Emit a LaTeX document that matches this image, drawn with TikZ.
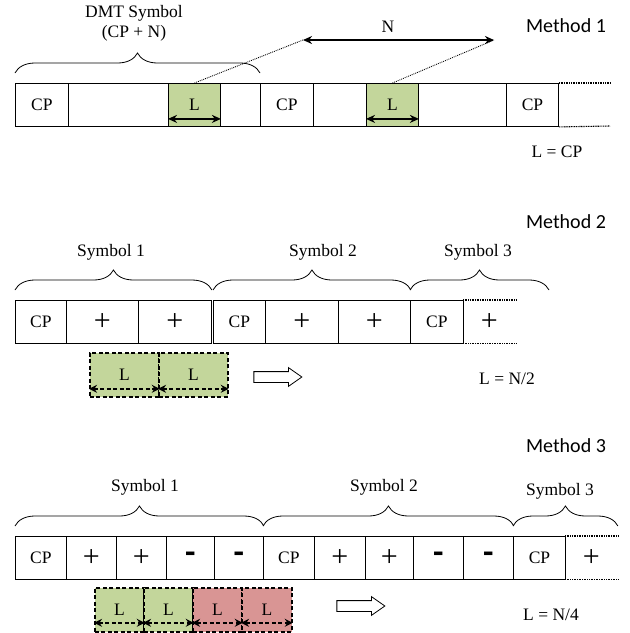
\documentclass[tikz,border=0pt]{standalone}
\usepackage{fontspec}
\setmainfont{Liberation Serif}
\newfontfamily\calib{Carlito}
\usetikzlibrary{decorations.pathreplacing,arrows.meta,shapes.arrows}

\definecolor{lgreen}{HTML}{C3D69B}
\definecolor{lred}{HTML}{D99594}

% \cell{name}{left}{right}{top}{text}{extra style}
\newcommand{\cell}[6]{%
  \node[cell, minimum width={#3-#2}, #6] (#1) at (#2,#4) {#5};}
\newcommand{\plus}{{\fontsize{30}{30}\selectfont +}}
\newcommand{\minus}{{\calib\bfseries\fontsize{34}{34}\selectfont -}}

\begin{document}
\begin{tikzpicture}[x=1pt,y=-1pt,
  txt/.style={font=\fontsize{17.5}{20}\selectfont, inner sep=0pt, anchor=base},
  meth/.style={font=\calib\fontsize{20}{24}\selectfont, inner sep=0pt, anchor=base},
  cell/.style={draw, line width=0.9pt, minimum height=43pt, inner sep=0pt,
    anchor=north west, font=\fontsize{17.5}{20}\selectfont},
  segbox/.style={draw, line width=1.8pt, dash pattern=on 4pt off 2.5pt,
    minimum height=44pt, inner sep=0pt, anchor=north west,
    font=\fontsize{17.5}{20}\selectfont},
  brc/.style={decorate, decoration={brace, amplitude=20pt}, line width=0.8pt},
  larr/.style={{Stealth[length=9pt,width=8pt]}-{Stealth[length=9pt,width=8pt]}, line width=1.8pt},
  darr/.style={{Stealth[length=8pt,width=8pt]}-{Stealth[length=8pt,width=8pt]}, line width=1.8pt,
    dash pattern=on 4pt off 2.5pt},
  cont/.style={line width=1.1pt, dash pattern=on 1pt off 0.7pt},
  hollow/.style={single arrow, draw, fill=white, line width=0.8pt,
    minimum height=48pt, single arrow head extend=4pt, inner sep=5pt,
    single arrow tip angle=70}
]
\useasboundingbox (0,0) rectangle (630,633);

%% ---------------- Method 1 ----------------
\node[meth] (t1) at (566,32) {Method 1};
\cell{a1}{15}{68}{83}{CP}{}
\cell{a2}{68}{168}{83}{}{}
\cell{a3}{168}{220}{83}{L}{fill=lgreen}
\cell{a4}{220}{260}{83}{}{}
\cell{a5}{260}{313}{83}{CP}{}
\cell{a6}{313}{366}{83}{}{}
\cell{a7}{366}{418}{83}{L}{fill=lgreen}
\cell{a8}{418}{506}{83}{}{}
\cell{a9}{506}{558}{83}{CP}{}
\coordinate (a9t) at (610,83);
\coordinate (a9b) at (610,126);
\draw[cont] (a9.north east) -- (a9t);
\draw[cont] (a9.south east) -- (a9b);

\draw[larr] ([yshift=8pt]a3.south west) -- ([yshift=8pt]a3.south east);
\draw[larr] ([yshift=8pt]a7.south west) -- ([yshift=8pt]a7.south east);

\draw[brc] ([yshift=10pt]a1.north west) -- ([yshift=10pt]a5.north west);
\node[txt] (dmt) at (134,17) {DMT Symbol};
\node[txt] (cpn) at (134,37) {(CP + N)};

\coordinate (nl) at (303,40);
\coordinate (nr) at (494,40);
\draw[larr] (nl) -- (nr);
\node[txt] (nlab) at (388,32) {N};
\draw[line width=0.9pt, densely dotted] (a3.north) -- (nl);
\draw[line width=0.9pt, densely dotted] (a7.north) -- (nr);
\node[txt] (eq1) at (557,157) {L = CP};

%% ---------------- Method 2 ----------------
\node[meth] (t2) at (566,228) {Method 2};
\cell{b1}{15}{66}{300}{CP}{}
\cell{b2}{66}{138}{300}{\plus}{}
\cell{b3}{138}{211}{300}{\plus}{}
\cell{b4}{213}{265}{300}{CP}{}
\cell{b5}{265}{338}{300}{\plus}{}
\cell{b6}{338}{410}{300}{\plus}{}
\cell{b7}{410}{463}{300}{CP}{}
\cell{b8}{463}{515}{300}{\plus}{draw=none}
\draw[cont] (b8.north west) -- (b8.north east);
\draw[cont] (b8.south west) -- (b8.south east);

\coordinate (b9) at (549,290);
\draw[brc] ([yshift=10pt]b1.north west) -- ([yshift=10pt]b3.north east);
\draw[brc] ([yshift=10pt]b4.north west) -- ([yshift=10pt]b6.north east);
\draw[brc] ([yshift=10pt]b7.north west) -- (b9);
\node[txt] (s21) at (111,256) {Symbol 1};
\node[txt] (s22) at (323,256) {Symbol 2};
\node[txt] (s23) at (478,256) {Symbol 3};

\node[segbox, minimum width=69, fill=lgreen] (g1) at (89,352) {L};
\node[segbox, minimum width=69, fill=lgreen] (g2) at (158,352) {L};
\draw[darr] ([yshift=9pt]g1.south west) -- ([yshift=9pt]g1.south east);
\draw[darr] ([yshift=9pt]g2.south west) -- ([yshift=9pt]g2.south east);

\node[hollow] (h2) at (274,377) {};
\node[txt] (eq2) at (507,384) {L = N/2};

%% ---------------- Method 3 ----------------
\node[meth] (t3) at (566,452) {Method 3};
\cell{c1}{15}{66}{536}{CP}{}
\cell{c2}{66}{116}{536}{\plus}{}
\cell{c3}{116}{166}{536}{\plus}{}
\cell{c4}{166}{214}{536}{\minus}{}
\cell{c5}{214}{263}{536}{\minus}{}
\cell{c6}{263}{314}{536}{CP}{}
\cell{c7}{314}{365}{536}{\plus}{}
\cell{c8}{365}{413}{536}{\plus}{}
\cell{c9}{413}{463}{536}{\minus}{}
\cell{c10}{463}{513}{536}{\minus}{}
\cell{c11}{513}{565}{536}{CP}{}
\cell{c12}{565}{617}{536}{\plus}{draw=none}
\draw[cont] (c12.north west) -- (c12.north east);
\draw[cont] (c12.south west) -- (c12.south east);

\draw[brc] ([yshift=10pt]c1.north west) -- ([yshift=10pt]c5.north east);
\draw[brc] ([yshift=10pt]c6.north west) -- ([yshift=10pt]c10.north east);
\draw[brc] ([yshift=10pt]c11.north west) -- ([yshift=10pt]c12.north east);
\node[txt] (s31) at (145,491) {Symbol 1};
\node[txt] (s32) at (384,491) {Symbol 2};
\node[txt] (s33) at (560,495) {Symbol 3};

\node[segbox, minimum width=49, fill=lgreen] (q1) at (94,587) {L};
\node[segbox, minimum width=49, fill=lgreen] (q2) at (143,587) {L};
\node[segbox, minimum width=49, fill=lred] (q3) at (192,587) {L};
\node[segbox, minimum width=50, fill=lred] (q4) at (241,587) {L};
\foreach \q in {q1,q2,q3,q4}
  \draw[darr] ([yshift=10pt]\q.south west) -- ([yshift=10pt]\q.south east);

\node[hollow] (h3) at (357,606) {};
\node[txt] (eq3) at (551,620) {L = N/4};
\end{tikzpicture}
\end{document}
